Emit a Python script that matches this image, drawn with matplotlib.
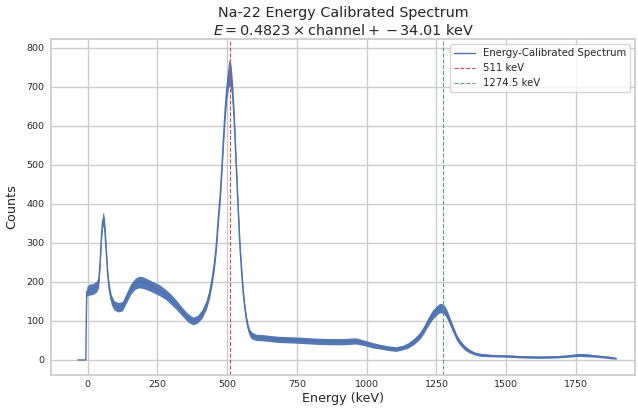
import matplotlib
matplotlib.use("Agg")
import matplotlib.pyplot as plt
import seaborn as sns
import numpy as np

# calibration
slope = 0.4823
intercept = -34.01

# spectrum (energy in keV, counts, half-width of noise band)
energy_kev = [-34, -6, -3, 5, 20, 32, 40, 45, 50, 54, 57, 61, 66, 72, 78, 85, 95,
              110, 125, 140, 155, 170, 185, 200, 220, 240, 260, 280, 300, 320, 340,
              360, 378, 395, 410, 425, 437, 447, 455, 462, 468, 475, 481, 487, 493,
              499, 505, 510, 515, 520, 525, 530, 535, 540, 546, 552, 558, 564, 570,
              576, 582, 590, 605, 630, 680, 750, 820, 870, 920, 960, 990, 1020, 1050,
              1080, 1105, 1130, 1150, 1170, 1190, 1205, 1220, 1235, 1250, 1262, 1272,
              1282, 1292, 1302, 1312, 1322, 1335, 1350, 1365, 1385, 1410, 1450, 1500,
              1560, 1620, 1680, 1720, 1760, 1790, 1820, 1850, 1875, 1894]
counts = [0, 0, 175, 180, 182, 188, 200, 250, 320, 355, 362, 345, 290, 220, 180, 155, 140,
          135, 138, 160, 182, 195, 200, 198, 192, 185, 178, 168, 155, 140, 123,
          108, 100, 105, 118, 140, 170, 210, 250, 300, 360, 420, 490, 570, 640,
          695, 730, 740, 720, 680, 620, 540, 460, 380, 290, 225, 170, 130, 100,
          80, 68, 62, 58, 57, 53, 51, 48, 47, 47, 49, 44, 38, 34,
          30, 28, 32, 38, 48, 62, 78, 98, 115, 127, 133, 132,
          125, 110, 92, 75, 58, 44, 32, 24, 17, 13, 11, 10,
          8, 7, 8, 10, 13, 12, 10, 8, 6, 4]
noise = [0, 0, 12, 14, 14, 14, 15, 16, 18, 18, 18, 18, 17, 15, 14, 13, 12,
         12, 12, 13, 14, 14, 15, 15, 14, 14, 14, 13, 13, 12, 11,
         11, 10, 10, 11, 12, 13, 15, 16, 18, 19, 20, 22, 24, 26,
         28, 32, 35, 32, 28, 26, 24, 22, 20, 18, 16, 14, 12, 11,
         10, 9, 9, 8, 8, 8, 8, 8, 8, 8, 8, 7, 7, 6,
         6, 6, 6, 7, 8, 9, 10, 11, 12, 12, 12, 12,
         12, 11, 10, 9, 8, 7, 6, 5, 4, 4, 3, 3,
         3, 3, 3, 3, 4, 4, 3, 3, 3, 2]

ref_lines = [511, 1274.5]
ref_labels = ["511 keV", "1274.5 keV"]
ref_colors = ["#c44e52", "#55a868"]

sns.set_theme(style="whitegrid")
plt.rcParams['font.family'] = ['DejaVu Sans']

fig = plt.figure(figsize=(6.38, 4.13), dpi=100)
ax = fig.add_axes([0.0807, 0.092, 0.915, 0.8136])

e = np.array(energy_kev, dtype=float)
c = np.array(counts, dtype=float)
n = np.array(noise, dtype=float)
ax.fill_between(e, c - n, c + n, color="#4c72b0", lw=0, alpha=0.95)
ax.plot(e, c, color="#4c72b0", lw=1.0, label="Energy-Calibrated Spectrum")

for x, lab, col in zip(ref_lines, ref_labels, ref_colors):
    ax.axvline(x, color=col, ls="--", lw=0.8, label=lab)

ax.set_xlim(-129, 1962)
ax.set_ylim(-38.5, 823)
ax.set_xticks([0, 250, 500, 750, 1000, 1250, 1500, 1750])
ax.set_yticks([0, 100, 200, 300, 400, 500, 600, 700, 800])
ax.tick_params(axis="both", labelsize=6.8, length=0)
ax.tick_params(axis="y", pad=5)
ax.tick_params(axis="x", pad=3.5)
ax.set_xlabel("Energy (keV)", fontsize=9.2, labelpad=2)
ax.set_ylabel("Counts", fontsize=9.2, labelpad=6)
ax.set_title("Na-22 Energy Calibrated Spectrum\n"
             f"$E = {slope:.4f} \\times \\mathrm{{channel}} + {intercept:.2f}$ keV",
             fontsize=10.4, pad=3)
ax.legend(loc="upper right", fontsize=7.3, frameon=True)

fig.savefig("out.png", dpi=100)
